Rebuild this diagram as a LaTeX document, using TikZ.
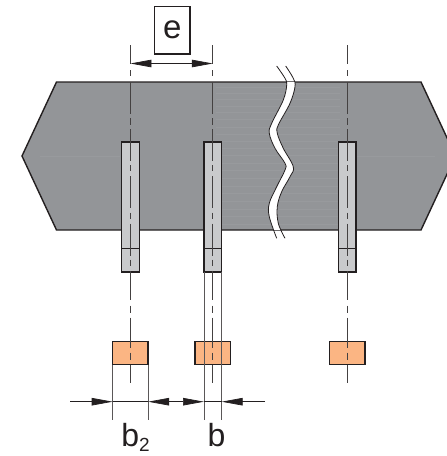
\documentclass[tikz,border=0pt]{standalone}
\usepackage{fontspec}
\setmainfont{Liberation Sans}
\usetikzlibrary{arrows.meta}
\definecolor{ink}{HTML}{231F20}
\definecolor{plate}{HTML}{939598}
\definecolor{streak}{HTML}{989A9D}
\definecolor{barfill}{HTML}{C9CACC}
\definecolor{footfill}{HTML}{FBB583}
\tikzset{
  outline/.style={draw=ink,line width=1.4pt,line join=miter},
  thin line/.style={draw=ink,line width=0.8pt},
  guide/.style={draw=ink!75,line width=0.9pt},
  centre/.style={draw=ink!85,line width=0.9pt},
  dim/.style={draw=ink,line width=0.7pt},
  tip/.style={{Triangle[length=21pt,width=7.5pt]}-{Triangle[length=21pt,width=7.5pt]}},
  tipend/.style={-{Triangle[length=21pt,width=7.5pt]}},
  label/.style={font=\fontsize{32}{32}\selectfont,text=ink,inner sep=0pt,anchor=base}
}
\begin{document}
\begin{tikzpicture}[x=1pt,y=-1pt]
\useasboundingbox (0,0) rectangle (447,456);
\begin{scope}
\clip (0,0) rectangle (447,456);
\path[fill=plate] (22,156) -- (56.5,82) -- (421,82) -- (455.5,156) -- (421,230) -- (56.5,230) -- cycle;
\foreach \y in {87,93,99,106,112,119,127,134,141,148,155,163,170,178,186,193,201,209,216,224}
  \draw[streak,line width=0.5pt] (216,\y) -- (340,\y);
\draw[streak,line width=0.5pt] (40,156) -- (120,156) (355,156) -- (435,156);
\path[outline] (22,156) -- (56.5,82) -- (421,82) -- (455.5,156) -- (421,230) -- (56.5,230) -- cycle;
\end{scope}
% break in the plate
\def\waveL{(276.7,66) (285,78.3) (286.7,85) (283.3,100) (271.7,123.3) (269.3,133.3) (275,148.3) (285,163.3) (285,170) (276.7,186.7) (269.3,203.3) (269.3,216.7) (276.7,238.3)}
\def\waveR{(285,238.3) (278.3,223.3) (277.3,206.7) (281.7,191.7) (290,176.7) (293.3,166.7) (283.3,148.3) (277.3,133.3) (278.3,125) (290,103.3) (295,86.7) (293.3,78.3) (285.7,66)}
\begin{scope}
\clip (250,82.7) rectangle (310,229.3);
\fill[white] plot[smooth,tension=0.6] coordinates {\waveL} -- plot[smooth,tension=0.6] coordinates {\waveR} -- cycle;
\end{scope}
\draw[thin line] plot[smooth,tension=0.6] coordinates {\waveL};
\draw[thin line] plot[smooth,tension=0.6] coordinates {\waveR};
% bars, feet, centre lines
\foreach \c/\n in {130.4/a,212.8/b,347.1/c}{
  \path[fill=barfill,outline] (\c-8.8,142) rectangle (\c+8.8,272);
  \draw[outline] (\c-8.8,248.5) -- (\c+8.8,248.5);
  \path[fill=footfill,outline] (\c-17.7,341.3) rectangle (\c+17.7,364.7);
  \draw[centre] (\c,45) -- (\c,64) (\c,70) -- (\c,76) (\c,82) -- (\c,114) (\c,118) -- (\c,125)
    (\c,129) -- (\c,161) (\c,165) -- (\c,171) (\c,176) -- (\c,208) (\c,212.5) -- (\c,218.5)
    (\c,223.5) -- (\c,255.5) (\c,259.5) -- (\c,266) (\c,270.5) -- (\c,300) (\c,305.5) -- (\c,312.5)
    (\c,317.5) -- (\c,348) (\c,352.5) -- (\c,359.5) (\c,365) -- (\c,383);
  \coordinate (top\n) at (\c,63.5);
}
% e dimension
\node[draw=ink,line width=1.2pt,minimum width=35.3pt,minimum height=47.5pt,inner sep=0pt,font=\fontsize{33}{33}\selectfont,text=ink] (boxe) at (172.4,30.2) {e};
\draw[dim,tip] (topa) -- (topb);
% extension lines
\coordinate (f1) at (112.7,364.7); \coordinate (g1) at (112.7,420);
\coordinate (f2) at (148.1,364.7); \coordinate (g2) at (148.1,420);
\coordinate (f3) at (204,272);     \coordinate (g3) at (204,420);
\coordinate (f4) at (221.6,272);   \coordinate (g4) at (221.6,420);
\draw[guide] (f1) -- (g1);
\draw[guide] (f2) -- (g2);
\draw[guide] (f3) -- (g3);
\draw[guide] (f4) -- (g4);
% bottom dimensions
\coordinate (d0) at (70,401.7); \coordinate (d1) at (112.7,401.7);
\coordinate (d2) at (148.1,401.7); \coordinate (d3) at (204,401.7);
\coordinate (d4) at (221.6,401.7); \coordinate (d5) at (265,401.7);
\draw[dim,tipend] (d0) -- (d1);
\draw[dim] (d1) -- (d2);
\draw[dim,tip] (d2) -- (d3);
\draw[dim] (d3) -- (d4);
\draw[dim,tipend] (d5) -- (d4);
\node[label] (lb2) at (135.5,446.7) {b\raisebox{-5pt}{\fontsize{19}{19}\selectfont 2}};
\node[label] (lb) at (216.5,446.7) {b};
\end{tikzpicture}
\end{document}
